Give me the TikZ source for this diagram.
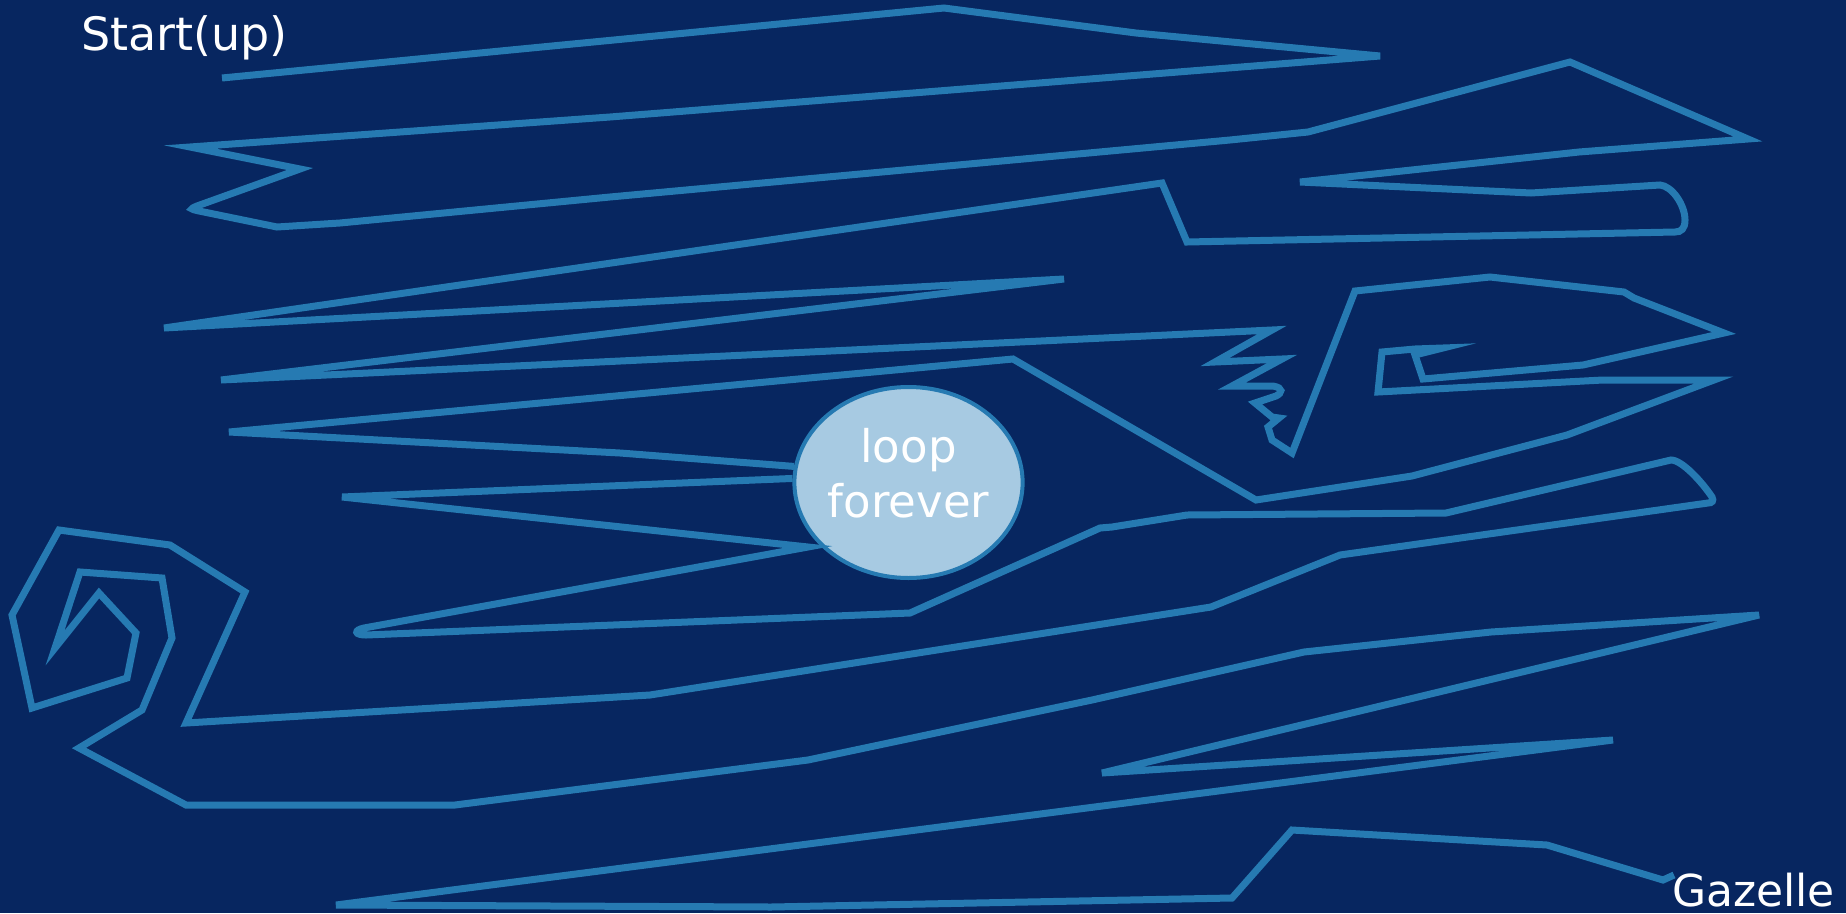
\documentclass[tikz,border=0pt]{standalone}
\usepackage{fontspec}
\setmainfont{DejaVu Sans}
\usetikzlibrary{shapes.geometric}
\definecolor{bgc}{RGB}{7,38,96}
\definecolor{linec}{RGB}{38,122,178}
\definecolor{fillc}{RGB}{167,202,226}
\tikzset{
  wire/.style={draw=linec, line width=7pt},
  lbl/.style={text=white, inner sep=0pt, font=\fontsize{45}{55}\selectfont},
  loopnode/.style={ellipse, draw=linec, line width=4pt, fill=fillc, text=white,
    minimum width=223pt, minimum height=191pt, inner sep=0pt, align=center,
    font=\fontsize{45}{55}\selectfont}
}
\begin{document}
\begin{tikzpicture}[x=1pt, y=-1pt]
\fill[bgc] (0,0) rectangle (1846,913);
\useasboundingbox (0,0) rectangle (1846,913);
\node[lbl, anchor=base west, font=\fontsize{46}{55}\selectfont] (start) at (81,50) {Start(up)};
\node[lbl, anchor=base west, font=\fontsize{44}{55}\selectfont] (gazelle) at (1672,906) {Gazelle};
\coordinate (s0) at (222,78);
\coordinate (g0) at (1674,875);
\node[loopnode] (loop) at (908.5,482.5) {loop\\forever\rule[-20pt]{0pt}{20pt}};
\draw[wire] (s0) -- (944,8) -- (1136,33) -- (1380,56) -- (610,117) -- (190,147)
  -- (300,169) -- (197,206) .. controls (190,209) .. (199,211) -- (277,227) -- (340,223)
  -- (610,197) -- (1230,140) -- (1308,132) -- (1570,62) -- (1748,139) -- (1579,152)
  -- (1300,182) -- (1531,193) -- (1660,185)
  .. controls (1672,186) and (1685,205) .. (1685,220)
  .. controls (1685,229) and (1681,232) .. (1675,232)
  -- (1187,242) -- (1162,183) -- (164,328) -- (1064,279) -- (221,380) -- (1272,330)
  -- (1215,362) -- (1282,359) -- (1232,386) -- (1273,386)
  .. controls (1284,388) and (1282,393) .. (1276,396)
  -- (1255,403) -- (1272,417) -- (1279,418) -- (1268,427) -- (1272,440) -- (1292,453)
  -- (1355,291) -- (1490,277) -- (1624,292) -- (1634,298) -- (1724,333) -- (1583,365)
  -- (1423,379) -- (1415,355) -- (1443,348) -- (1415,349) -- (1382,352) -- (1378,392)
  -- (1603,380) -- (1714,380) -- (1567,435) -- (1412,476) -- (1256,500) -- (1013,359)
  -- (229,432) -- (620,453) -- (loop.172);
\draw[wire] (loop.178) -- (342,497) -- (808,547) -- (364,628)
  .. controls (354,630) and (354,635) .. (366,635)
  -- (910,613) -- (1100,528) -- (1112,527) -- (1187,515) -- (1446,513) -- (1671,460)
  .. controls (1682,460) and (1702,482) .. (1712,497)
  .. controls (1714,501) and (1712,503) .. (1708,503)
  -- (1340,555) -- (1211,607) -- (650,695) -- (186,723) -- (245,592) -- (170,545)
  -- (59,530) -- (12,615) -- (32,708) -- (127,678) -- (136,633) -- (99,593) -- (55,648)
  -- (80,572) -- (162,578) -- (172,638) -- (142,710) -- (79,748) -- (186,805) -- (455,805)
  -- (808,760) -- (1092,700) -- (1304,652) -- (1491,632) -- (1759,615) -- (1102,773)
  -- (1613,740) -- (336,905) -- (771,907) -- (1232,898) -- (1292,830) -- (1547,845)
  -- (1663,880) -- (g0);
\end{tikzpicture}
\end{document}
